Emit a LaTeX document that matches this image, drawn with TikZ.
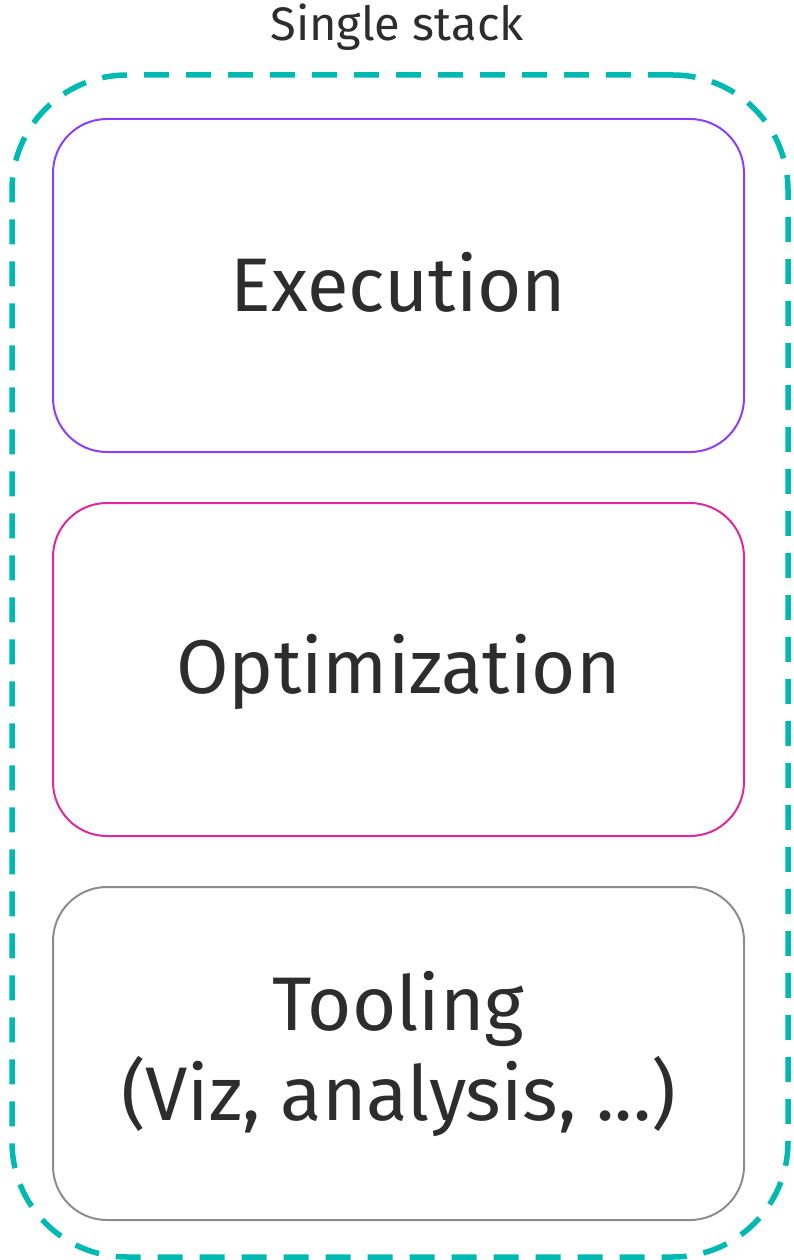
\documentclass[tikz,border=0pt]{standalone}
\usepackage{fontspec}
\setmainfont{Fira Sans}
\definecolor{stackteal}{RGB}{0,186,178}
\definecolor{execpurple}{RGB}{138,63,252}
\definecolor{optmagenta}{RGB}{222,40,156}
\definecolor{toolgray}{RGB}{141,141,141}
\definecolor{inktext}{RGB}{45,45,45}
\begin{document}
\begin{tikzpicture}[x=1pt,y=-1pt,
  layerbox/.style={draw, line width=2pt, rounded corners=54pt,
    minimum width=691pt, minimum height=333pt, inner sep=0pt},
  layertext/.style={text=inktext, font=\fontsize{76}{90}\selectfont, align=center},
  stackframe/.style={draw=stackteal, line width=5.5pt, rounded corners=115pt,
    dash pattern=on 25pt off 17pt, minimum width=776pt, minimum height=1182pt, inner sep=0pt}]
  \useasboundingbox (0,0) rectangle (794,1260);

  % outer dashed frame and its caption
  \node[stackframe] (stack) at (400,666) {};
  \node[text=inktext, font=\fontsize{47}{56}\selectfont, anchor=base] (title) at (397,41) {Single stack};

  % the three layers
  \node[layerbox, draw=execpurple] (exec) at (398.5,285.5) {};
  \node[layerbox, draw=optmagenta] (opt) at (398.5,669.5) {};
  \node[layerbox, draw=toolgray] (tool) at (398.5,1053.5) {};

  \node[layertext, anchor=base] (execlabel) at (398.5,311) {Execution};
  \node[layertext, anchor=base] (optlabel) at (398.5,693) {Optimization};
  \node[layertext] (toollabel) at (398.5,1053.5) {Tooling\\(Viz, analysis, ...)};
\end{tikzpicture}
\end{document}
